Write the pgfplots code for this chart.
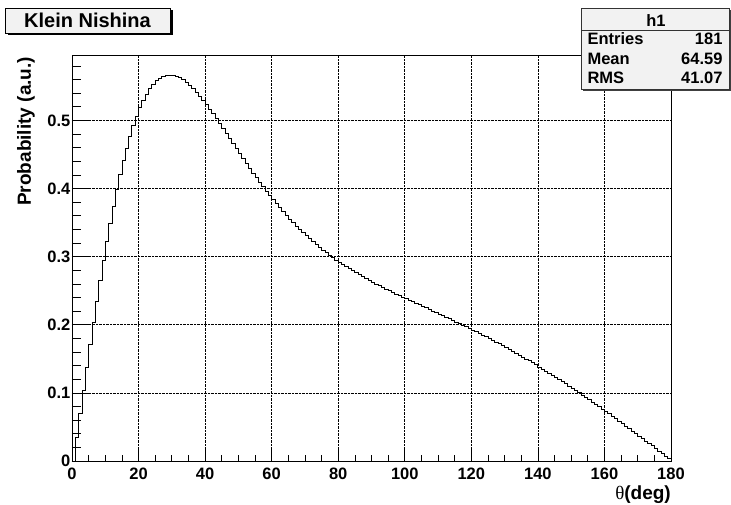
\documentclass[border=0pt]{standalone}
\usepackage{fontspec}
\setmainfont{Liberation Sans}
\newfontfamily\serif{Liberation Serif}
\usepackage{pgfplots}
\pgfplotsset{compat=1.18}
\definecolor{boxfill}{HTML}{F2F2F2}
\begin{document}
\begin{tikzpicture}
\fill[white] (-72pt,-44pt) rectangle (659pt,461pt);
\useasboundingbox (-72pt,-44pt) rectangle (659pt,461pt);
\begin{axis}[
  at={(0pt,0pt)}, anchor=south west,
  scale only axis, width=599pt, height=405.3pt,
  xmin=0, xmax=180, ymin=0, ymax=0.5951,
  xtick={0,20,40,60,80,100,120,140,160,180},
  ytick={0,0.1,0.2,0.3,0.4,0.5},
  minor xtick={5,10,15,25,30,35,45,50,55,65,70,75,85,90,95,105,110,115,125,130,135,145,150,155,165,170,175},
  minor ytick={0.02,0.04,0.06,0.08,0.12,0.14,0.16,0.18,0.22,0.24,0.26,0.28,0.32,0.34,0.36,0.38,0.42,0.44,0.46,0.48,0.52,0.54,0.56,0.58},
  tick align=inside,
  xtick pos=bottom, ytick pos=left,
  xtick style={/pgfplots/major tick length=12pt,/pgfplots/minor tick length=6pt},
  ytick style={/pgfplots/major tick length=19pt,/pgfplots/minor tick length=9.3pt},
  tick style={black, line width=0.7pt},
  grid=major,
  major grid style={densely dotted, black, line width=0.6pt},
  axis line style={black, line width=0.9pt},
  /pgf/number format/assume math mode=true,
  tick label style={font=\bfseries\fontsize{16.5}{16.5}\selectfont},
  yticklabel style={xshift=1.8pt},
  xticklabel style={yshift=-3pt},
  xlabel={{\serif\mdseries θ}(deg)},
  ylabel={Probability (a.u.)},
  label style={font=\bfseries\fontsize{19}{19}\selectfont},
  xlabel style={at={(axis description cs:1,0)}, anchor=north east, inner sep=0pt, yshift=-25pt},
  ylabel style={at={([xshift=-46pt,yshift=-1pt]axis description cs:0,1)}, anchor=east, inner sep=0pt, rotate=0},
]
\addplot[const plot, black, line width=0.8pt] table {
x y
0 0
1 0.0349
2 0.0696
3 0.1040
4 0.1379
5 0.1711
6 0.2035
7 0.2350
8 0.2655
9 0.2948
10 0.3227
11 0.3493
12 0.3745
13 0.3981
14 0.4202
15 0.4407
16 0.4595
17 0.4767
18 0.4923
19 0.5063
20 0.5186
21 0.5295
22 0.5388
23 0.5467
24 0.5531
25 0.5583
26 0.5621
27 0.5648
28 0.5663
29 0.5668
30 0.5663
31 0.5649
32 0.5627
33 0.5597
34 0.5561
35 0.5518
36 0.5470
37 0.5417
38 0.5359
39 0.5298
40 0.5234
41 0.5167
42 0.5098
43 0.5027
44 0.4955
45 0.4882
46 0.4808
47 0.4735
48 0.4661
49 0.4587
50 0.4513
51 0.4440
52 0.4368
53 0.4297
54 0.4228
55 0.4159
56 0.4091
57 0.4025
58 0.3961
59 0.3898
60 0.3836
61 0.3776
62 0.3718
63 0.3661
64 0.3606
65 0.3552
66 0.3500
67 0.3450
68 0.3401
69 0.3353
70 0.3307
71 0.3262
72 0.3219
73 0.3177
74 0.3137
75 0.3097
76 0.3059
77 0.3022
78 0.2986
79 0.2952
80 0.2918
81 0.2885
82 0.2853
83 0.2822
84 0.2792
85 0.2762
86 0.2734
87 0.2705
88 0.2678
89 0.2651
90 0.2625
91 0.2599
92 0.2574
93 0.2549
94 0.2524
95 0.2500
96 0.2476
97 0.2453
98 0.2429
99 0.2406
100 0.2383
101 0.2360
102 0.2338
103 0.2315
104 0.2293
105 0.2270
106 0.2248
107 0.2225
108 0.2203
109 0.2180
110 0.2157
111 0.2135
112 0.2112
113 0.2089
114 0.2066
115 0.2042
116 0.2019
117 0.1995
118 0.1972
119 0.1948
120 0.1923
121 0.1899
122 0.1874
123 0.1849
124 0.1824
125 0.1798
126 0.1773
127 0.1747
128 0.1720
129 0.1694
130 0.1667
131 0.1640
132 0.1612
133 0.1584
134 0.1556
135 0.1528
136 0.1499
137 0.1470
138 0.1441
139 0.1411
140 0.1381
141 0.1351
142 0.1321
143 0.1290
144 0.1259
145 0.1228
146 0.1196
147 0.1164
148 0.1132
149 0.1099
150 0.1067
151 0.1034
152 0.1001
153 0.0967
154 0.0933
155 0.0900
156 0.0865
157 0.0831
158 0.0796
159 0.0762
160 0.0727
161 0.0692
162 0.0656
163 0.0621
164 0.0585
165 0.0549
166 0.0513
167 0.0477
168 0.0441
169 0.0405
170 0.0368
171 0.0332
172 0.0295
173 0.0258
174 0.0222
175 0.0185
176 0.0148
177 0.0111
178 0.0074
179 0.0037
180 0
};
\end{axis}
% title box
\fill[black] (-64pt,425.7pt) rectangle (101pt,450.7pt);
\filldraw[fill=boxfill, draw=black, line width=0.8pt] (-67pt,427.7pt) rectangle (98pt,452.7pt);
\node[anchor=base, inner sep=0pt, font=\bfseries\fontsize{20}{20}\selectfont] at (15.5pt,433.3pt) {Klein Nishina};
% stats box
\fill[black!75] (511pt,369.7pt) rectangle (659.3pt,450.7pt);
\filldraw[fill=boxfill, draw=black!80, line width=0.8pt] (509pt,371.7pt) rectangle (657.3pt,452.7pt);
\draw[black!80, line width=0.8pt] (509pt,430.3pt) -- (657.3pt,430.3pt);
\node[anchor=base, inner sep=0pt, font=\bfseries\fontsize{16.5}{16.5}\selectfont] at (584pt,434pt) {h1};
\node[anchor=base west, inner sep=0pt, font=\bfseries\fontsize{16.5}{16.5}\selectfont] at (515.3pt,416pt) {Entries};
\node[anchor=base east, inner sep=0pt, font=\bfseries\fontsize{16.5}{16.5}\selectfont] at (650.7pt,416pt) {181};
\node[anchor=base west, inner sep=0pt, font=\bfseries\fontsize{16.5}{16.5}\selectfont] at (515.3pt,396pt) {Mean};
\node[anchor=base east, inner sep=0pt, font=\bfseries\fontsize{16.5}{16.5}\selectfont] at (650.7pt,396pt) {64.59};
\node[anchor=base west, inner sep=0pt, font=\bfseries\fontsize{16.5}{16.5}\selectfont] at (515.3pt,377pt) {RMS};
\node[anchor=base east, inner sep=0pt, font=\bfseries\fontsize{16.5}{16.5}\selectfont] at (650.7pt,377pt) {41.07};
\end{tikzpicture}
\end{document}
